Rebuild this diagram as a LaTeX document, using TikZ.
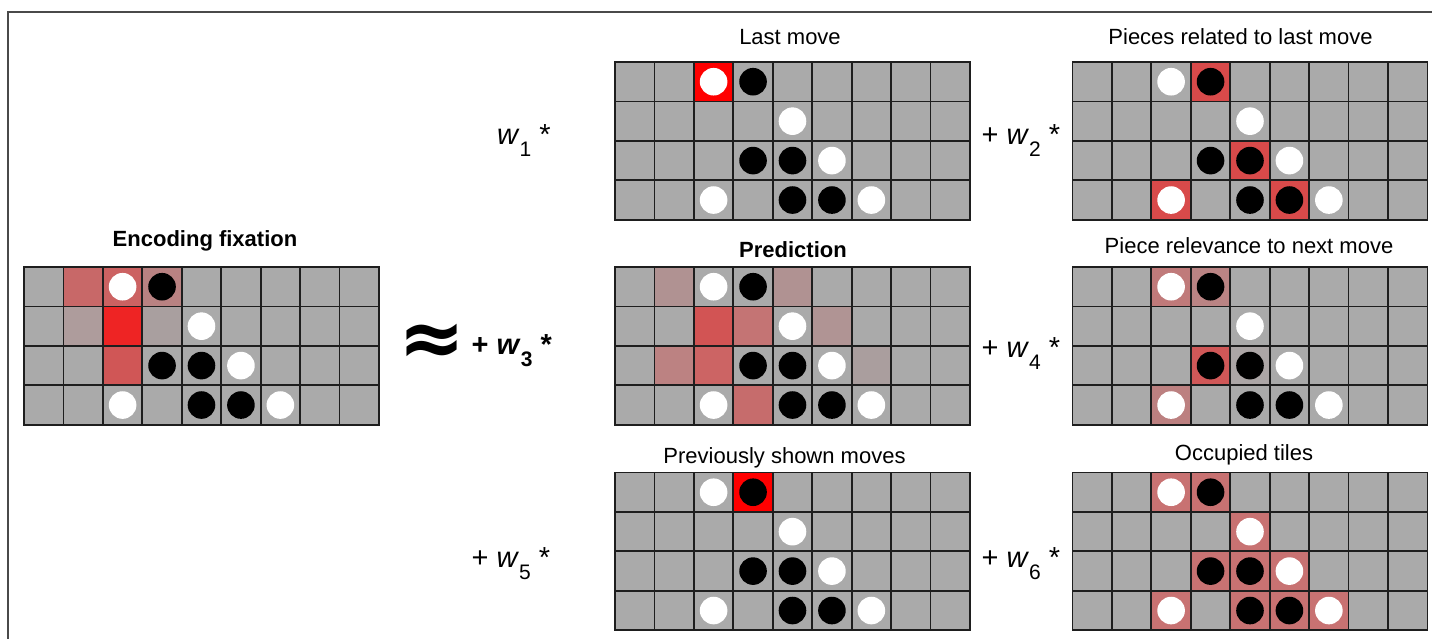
\documentclass[tikz,border=0pt]{standalone}
\usepackage{fontspec}
\setmainfont{Liberation Sans}
\newfontfamily\djv{DejaVu Sans}
\definecolor{cellgray}{HTML}{AAAAAA}
\definecolor{gridcol}{HTML}{1E1E1E}
\definecolor{framecol}{HTML}{4A4A4A}
\definecolor{pure}{HTML}{FF0000}
\definecolor{fA}{HTML}{C86868}
\definecolor{fB}{HTML}{CC6262}
\definecolor{fC}{HTML}{B98282}
\definecolor{fD}{HTML}{AE9C9C}
\definecolor{fE}{HTML}{EE2424}
\definecolor{fF}{HTML}{A99F9F}
\definecolor{fG}{HTML}{D05656}
\definecolor{rel}{HTML}{D84A4A}
\definecolor{pA}{HTML}{B09292}
\definecolor{pB}{HTML}{D25454}
\definecolor{pC}{HTML}{C47474}
\definecolor{pD}{HTML}{B09494}
\definecolor{pE}{HTML}{BC8282}
\definecolor{pF}{HTML}{CC6464}
\definecolor{pG}{HTML}{AA9E9E}
\definecolor{pH}{HTML}{C66C6C}
\definecolor{rA}{HTML}{C07A7A}
\definecolor{rB}{HTML}{BA8484}
\definecolor{rC}{HTML}{D05858}
\definecolor{rD}{HTML}{ACA6A6}
\definecolor{rE}{HTML}{BC8080}
\definecolor{occ}{HTML}{C87272}
\def\cs{39.44}
\newcommand{\boardat}[3]{%
 \begin{scope}[shift={(#1,#2)}]
  \fill[cellgray] (0,0) rectangle ({9*\cs},{4*\cs});
  \foreach \c/\r/\k in {#3}{\fill[\k] ({(\c-1)*\cs},{(\r-1)*\cs}) rectangle ++(\cs,\cs);}
  \foreach \i in {0,...,9}{\draw[gridline] ({\i*\cs},0) -- ({\i*\cs},{4*\cs});}
  \foreach \j in {0,...,4}{\draw[gridline] (0,{\j*\cs}) -- ({9*\cs},{\j*\cs});}
  \foreach \c/\r in {3/1,5/2,6/3,3/4,7/4}{\fill[white] ({(\c-0.5)*\cs},{(\r-0.5)*\cs}) circle[radius=13.8pt];}
  \foreach \c/\r in {4/1,4/3,5/3,5/4,6/4}{\fill[black] ({(\c-0.5)*\cs},{(\r-0.5)*\cs}) circle[radius=13.8pt];}
 \end{scope}}
\newcommand{\subd}[1]{\raisebox{-12pt}{\fontsize{21}{21}\selectfont #1}}
\begin{document}
\begin{tikzpicture}[x=1pt,y=-1pt,
  gridline/.style={draw=gridcol,line width=1.8pt,line cap=rect},
  title/.style={anchor=base,inner sep=0pt,font=\fontsize{22}{26}\selectfont},
  boldtitle/.style={title,font=\fontsize{22}{26}\selectfont\bfseries},
  wlab/.style={anchor=base west,inner sep=0pt,font=\fontsize{29}{32}\selectfont}]
\useasboundingbox (0,0) rectangle (1432,639);
\fill[white] (0,0) rectangle (1432,639);
\draw[framecol,line width=1.4pt] (1432,12) -- (8,12) -- (8,639);
% boards
\boardat{24}{267}{2/1/fA,3/1/fB,4/1/fC,2/2/fD,3/2/fE,4/2/fF,3/3/fG}
\boardat{615}{62}{3/1/pure}
\boardat{1072.5}{62}{4/1/rel,5/3/rel,3/4/rel,6/4/rel}
\boardat{615}{267}{2/1/pA,5/1/pA,3/2/pB,4/2/pC,6/2/pD,2/3/pE,3/3/pF,7/3/pG,4/4/pH}
\boardat{1072.5}{267}{3/1/rA,4/1/rB,4/3/rC,5/3/rD,3/4/rE}
\boardat{615}{472.5}{4/1/pure}
\boardat{1072.5}{472.5}{3/1/occ,4/1/occ,5/2/occ,4/3/occ,5/3/occ,6/3/occ,3/4/occ,5/4/occ,6/4/occ,7/4/occ}
% titles
\node[boldtitle] (tfix) at (205,247) {Encoding fixation};
\node[title] (tlast) at (790,45) {Last move};
\node[title] (trel) at (1240.5,45) {Pieces related to last move};
\node[boldtitle] (tpred) at (793,257) {Prediction};
\node[title] (trelev) at (1249,253) {Piece relevance to next move};
\node[title] (tprev) at (784.5,463) {Previously shown moves};
\node[title] (tocc) at (1244,460) {Occupied tiles};
% weights
\node[anchor=center,inner sep=0pt,font=\fontsize{80}{80}\djv\bfseries] (approx) at (432.5,344.5) {≈};
\node[wlab] (w1) at (497,145) {\textit{w}\subd{1} *};
\node[wlab] (w2) at (981.5,145) {+ \textit{w}\subd{2} *};
\node[wlab,font=\fontsize{29}{32}\selectfont\bfseries] (w3) at (471.5,354) {+ \textit{w}\subd{3} *};
\node[wlab] (w4) at (981.5,357) {+ \textit{w}\subd{4} *};
\node[wlab] (w5) at (471.5,567) {+ \textit{w}\subd{5} *};
\node[wlab] (w6) at (981.5,567) {+ \textit{w}\subd{6} *};
\end{tikzpicture}
\end{document}
